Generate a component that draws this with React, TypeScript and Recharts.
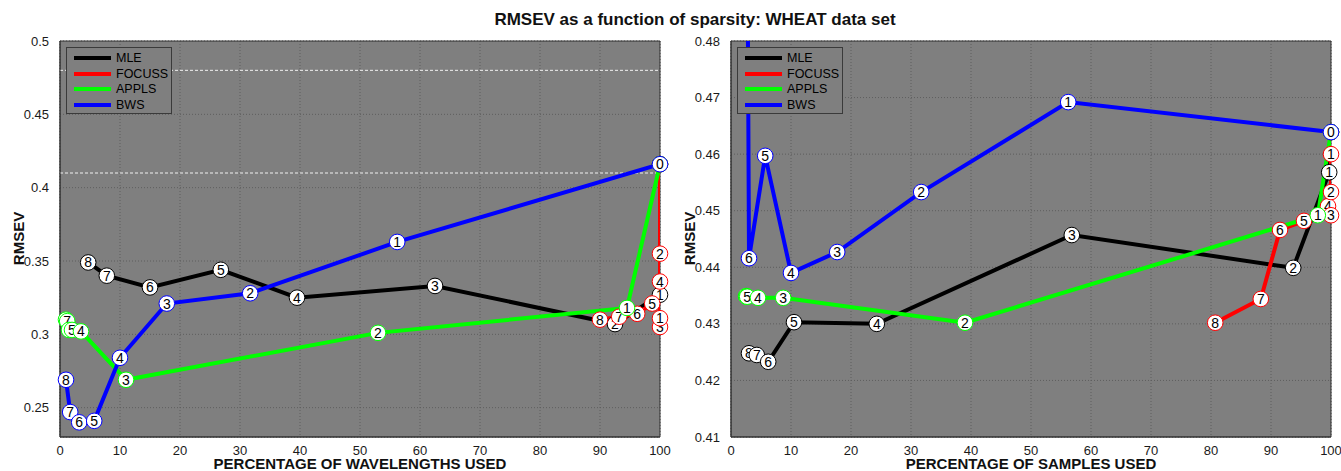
import { ComposedChart, Line, Scatter, XAxis, YAxis, CartesianGrid, ReferenceLine, ReferenceArea } from "recharts";

// point labels (iteration numbers), same order for every series
const labels = [8, 7, 6, 5, 4, 3, 2, 1, 0];

// left panel: percentage of wavelengths used
const wlMleX = [4.7, 7.8, 15.0, 26.8, 39.5, 62.5, 92.5, 100, 100];
const wlMleY = [0.349, 0.340, 0.332, 0.344, 0.325, 0.333, 0.307, 0.327, 0.416];
const wlFocussX = [90.0, 93.2, 96.2, 98.7, 100, 100, 100, 100, 100];
const wlFocussY = [0.310, 0.312, 0.314, 0.321, 0.336, 0.305, 0.355, 0.311, 0.416];
const wlApplsX = [1.0, 1.2, 1.5, 2.0, 3.5, 11.0, 53.0, 94.5, 100];
const wlApplsY = [0.310, 0.309, 0.303, 0.303, 0.302, 0.269, 0.301, 0.318, 0.416];
const wlBwsX = [1.0, 1.7, 3.2, 5.7, 10.0, 17.8, 31.7, 56.2, 100];
const wlBwsY = [0.269, 0.247, 0.240, 0.241, 0.284, 0.321, 0.328, 0.363, 0.416];

// right panel: percentage of samples used
const smMleX = [3.0, 4.3, 6.2, 10.5, 24.3, 56.8, 93.7, 99.7, 100];
const smMleY = [0.4248, 0.4245, 0.4233, 0.4303, 0.4300, 0.4457, 0.4399, 0.4568, 0.4639];
const smFocussX = [80.7, 88.3, 91.5, 95.5, 99.5, 100, 100, 100, 100];
const smFocussY = [0.4302, 0.4344, 0.4466, 0.4482, 0.4508, 0.4492, 0.4533, 0.4600, 0.4639];
const smApplsX = [2.5, 2.6, 2.6, 2.7, 4.5, 8.7, 39.0, 97.8, 100];
const smApplsY = [0.4349, 0.4349, 0.4348, 0.4348, 0.4346, 0.4346, 0.4302, 0.4492, 0.4639];
const smBwsX = [2.5, 2.6, 3.0, 5.7, 10.0, 17.7, 31.7, 56.2, 100];
const smBwsY = [0.54, 0.53, 0.4416, 0.4597, 0.4390, 0.4427, 0.4533, 0.4692, 0.4639];

const xTicks = [0, 10, 20, 30, 40, 50, 60, 70, 80, 90, 100];
const wlYTicks = [0.25, 0.3, 0.35, 0.4, 0.45, 0.5];
const smYTicks = [0.41, 0.42, 0.43, 0.44, 0.45, 0.46, 0.47, 0.48];
const wlDashed = [0.48, 0.41];

const names = ["MLE", "FOCUSS", "APPLS", "BWS"];
const colors = ["#000000", "#ff0000", "#00ff00", "#0000ff"];

type Pt = { x: number; y: number; n: number };
const toPoints = (xs: number[], ys: number[]): Pt[] => xs.map((x, i) => ({ x, y: ys[i], n: labels[i] }));

const wlSeries = [toPoints(wlMleX, wlMleY), toPoints(wlFocussX, wlFocussY), toPoints(wlApplsX, wlApplsY), toPoints(wlBwsX, wlBwsY)];
const smSeries = [toPoints(smMleX, smMleY), toPoints(smFocussX, smFocussY), toPoints(smApplsX, smApplsY), toPoints(smBwsX, smBwsY)];

const FONT = "'Liberation Sans', Arial, Helvetica, sans-serif";

function Marker(props: any) {
  const { cx, cy, payload, color } = props;
  if (cx == null || cy == null) return null;
  return (
    <g>
      <circle cx={cx} cy={cy} r={7.8} fill="#ffffff" stroke={color} strokeWidth={1} />
      <text x={cx} y={cy + 5} textAnchor="middle" fontSize={14} fontFamily={FONT} fill="#000">
        {payload.n}
      </text>
    </g>
  );
}

function Legend({ left }: { left: number }) {
  return (
    <div
      style={{
        position: "absolute",
        left,
        top: 47,
        width: 104,
        height: 65,
        border: "1px solid #3a3a3a",
        background: "#7f7f7f",
        fontFamily: FONT,
        fontSize: 12.5,
        color: "#000",
      }}
    >
      {names.map((n, i) => (
        <div key={n} style={{ position: "absolute", left: 0, top: 2 + i * 15.7, height: 16, display: "flex", alignItems: "center" }}>
          <div style={{ marginLeft: 7, width: 37, height: 4, background: colors[i] }} />
          <span style={{ marginLeft: 5 }}>{n}</span>
        </div>
      ))}
    </div>
  );
}

function Panel(props: {
  left: number;
  width: number;
  series: Pt[][];
  yDomain: [number, number];
  yTicks: number[];
  dashed: number[];
}) {
  const { left, width, series, yDomain, yTicks, dashed } = props;
  const tick = { fontSize: 13, fill: "#1a1a1a", fontFamily: FONT };
  return (
    <div style={{ position: "absolute", left, top: 0 }}>
      <ComposedChart width={width} height={471} margin={{ top: 41, right: width - 660, bottom: 10, left: 16 }}>
        <XAxis
          xAxisId="l"
          dataKey="x"
          type="number"
          domain={[0, 100]}
          ticks={xTicks}
          allowDataOverflow
          tick={tick}
          tickLine={false}
          tickMargin={3}
          height={24}
          axisLine={{ stroke: "#333" }}
        />
        <YAxis
          yAxisId="l"
          type="number"
          domain={yDomain}
          ticks={yTicks}
          allowDataOverflow
          tick={tick}
          tickLine={false}
          tickMargin={5}
          width={44}
          axisLine={{ stroke: "#333" }}
        />
        <XAxis xAxisId="s" dataKey="x" type="number" domain={[0, 100]} hide />
        <YAxis yAxisId="s" type="number" domain={yDomain} hide />
        <CartesianGrid
          xAxisId="l"
          yAxisId="l"
          fill="#7f7f7f"
          stroke="#5e5e5e"
          strokeDasharray="1 2"
        />
        <ReferenceArea
          xAxisId="l"
          yAxisId="l"
          x1={0}
          x2={100}
          y1={yDomain[0]}
          y2={yDomain[1]}
          fill="none"
          stroke="#333"
          strokeWidth={1}
        />
        {dashed.map((v) => (
          <ReferenceLine key={v} xAxisId="l" yAxisId="l" y={v} stroke="#f2f2f2" strokeDasharray="3 2" strokeWidth={1} />
        ))}
        {series.map((d, i) => (
          <Line
            key={"l" + i}
            xAxisId="l"
            yAxisId="l"
            data={d}
            dataKey="y"
            type="linear"
            stroke={colors[i]}
            strokeWidth={4}
            dot={false}
            activeDot={false}
            isAnimationActive={false}
          />
        ))}
        {series.map((d, i) => (
          <Scatter
            key={"s" + i}
            xAxisId="s"
            yAxisId="s"
            data={d.filter((p) => p.y <= yDomain[1])}
            dataKey="y"
            isAnimationActive={false}
            shape={(p: any) => <Marker {...p} color={colors[i]} />}
          />
        ))}
      </ComposedChart>
    </div>
  );
}

const boldText = { position: "absolute" as const, fontFamily: FONT, fontWeight: 700, color: "#111", whiteSpace: "nowrap" as const };

export default function App() {
  return (
    <div style={{ position: "absolute", left: 0, top: 0, width: 1341, height: 471, background: "#fff", overflow: "hidden" }}>
      <div style={{ ...boldText, left: 395, top: 10, width: 600, textAlign: "center", fontSize: 17 }}>
        RMSEV as a function of sparsity: WHEAT data set
      </div>
      <Panel left={0} width={680} series={wlSeries} yDomain={[0.23, 0.5]} yTicks={wlYTicks} dashed={wlDashed} />
      <Panel left={671} width={670} series={smSeries} yDomain={[0.41, 0.48]} yTicks={smYTicks} dashed={[]} />
      <Legend left={66} />
      <Legend left={737} />
      <div style={{ ...boldText, left: 60, top: 455, width: 600, textAlign: "center", fontSize: 15 }}>
        PERCENTAGE OF WAVELENGTHS USED
      </div>
      <div style={{ ...boldText, left: 731, top: 455, width: 600, textAlign: "center", fontSize: 15 }}>
        PERCENTAGE OF SAMPLES USED
      </div>
      <div style={{ ...boldText, left: -12, top: 230, width: 60, textAlign: "center", fontSize: 15, transform: "rotate(-90deg)" }}>
        RMSEV
      </div>
      <div style={{ ...boldText, left: 659, top: 230, width: 60, textAlign: "center", fontSize: 15, transform: "rotate(-90deg)" }}>
        RMSEV
      </div>
    </div>
  );
}
